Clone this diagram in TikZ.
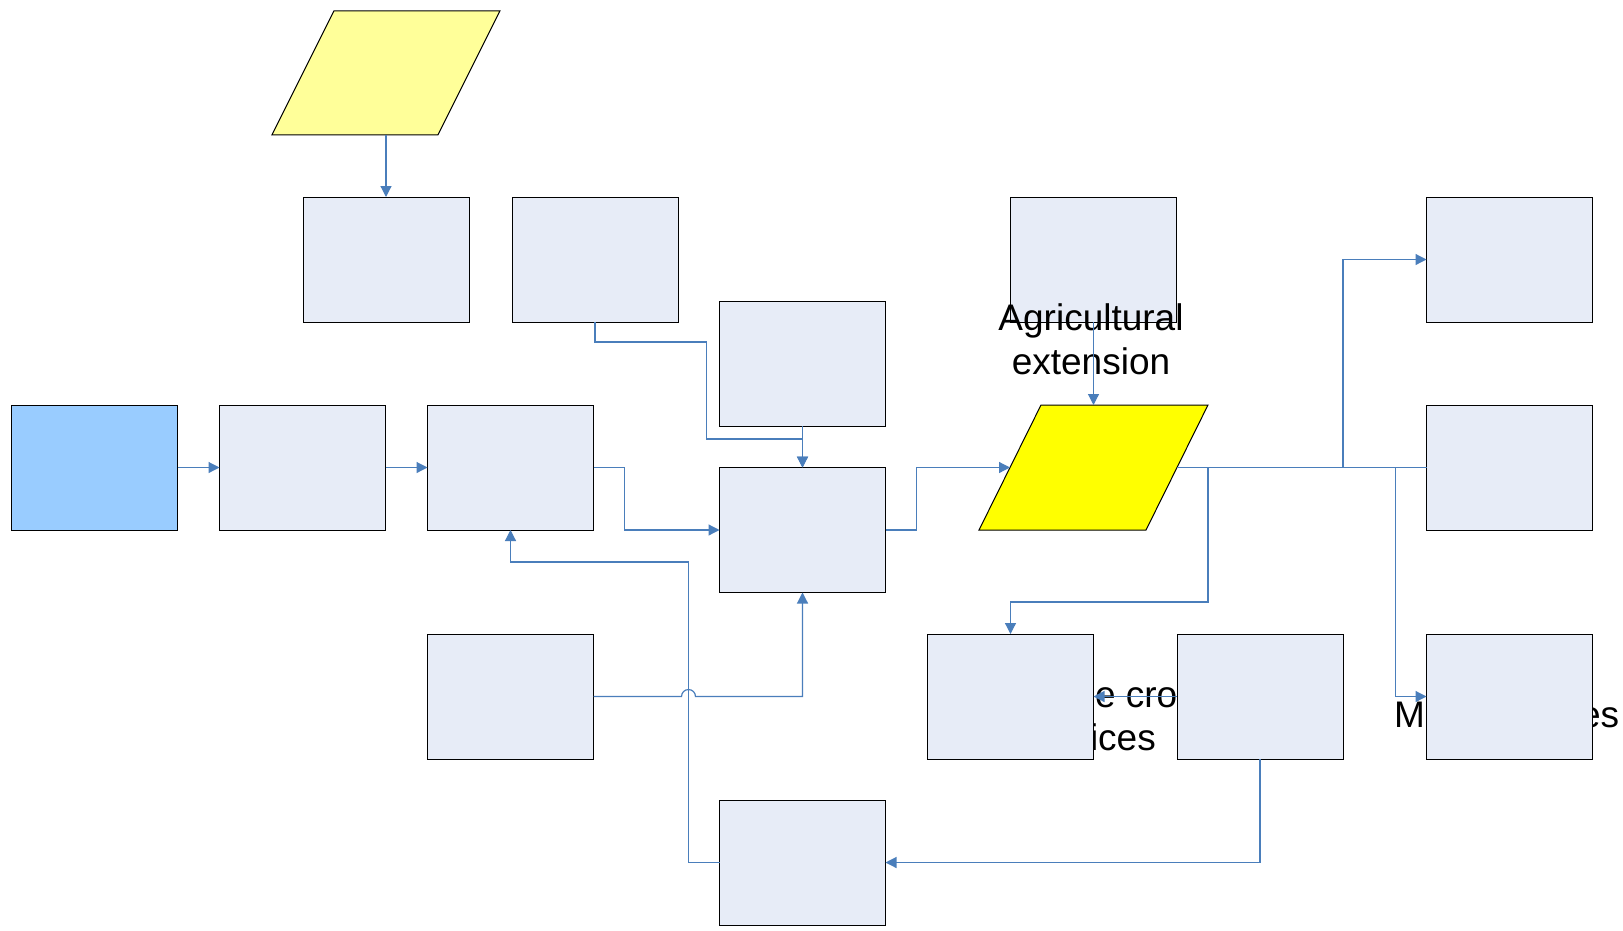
\documentclass[tikz,border=0pt]{standalone}
\usepackage{fontspec}
\setmainfont{Liberation Sans}
\usetikzlibrary{arrows.meta,calc}
\definecolor{boxfill}{RGB}{231,236,247}
\definecolor{startblue}{RGB}{153,204,255}
\definecolor{paleyellow}{RGB}{255,255,153}
\definecolor{brightyellow}{RGB}{255,255,0}
\definecolor{linkblue}{RGB}{74,126,187}
\begin{document}
\begin{tikzpicture}[x=1pt,y=-1pt,
  plainbox/.style={draw=black, line width=1pt, fill=boxfill,
    minimum width=166pt, minimum height=125pt, inner sep=0pt, outer sep=0pt},
  frame/.style={inner sep=0pt, outer sep=0pt},
  link/.style={draw=linkblue, line width=1.2pt},
  arr/.style={-{Triangle[length=11pt,width=11pt]}},
  txt/.style={font=\fontsize{37}{44}\selectfont, inner sep=0pt, outer sep=0pt}]

% canvas
\fill[white] (0,0) rectangle (1623,930);
\useasboundingbox (0,0) rectangle (1623,930);

% input parallelograms
\node[frame, minimum width=228pt, minimum height=124pt] (P1) at (386,72.85) {};
\draw[line width=1pt, fill=paleyellow] (P1.south west) -- ($(P1.north west)+(62,0)$)
  -- (P1.north east) -- ($(P1.south east)+(-62,0)$) -- cycle;
\node[frame, minimum width=229pt, minimum height=125pt] (P2) at (1093.5,467.5) {};
\draw[line width=1pt, fill=brightyellow] (P2.south west) -- ($(P2.north west)+(62,0)$)
  -- (P2.north east) -- ($(P2.south east)+(-62,0)$) -- cycle;

% text partly covered by the boxes
\node[txt, anchor=base west] (frag1) at (1095,707) {e cro};
\node[txt, anchor=base west] (frag2) at (1090,750) {ices};
\node[txt, anchor=base west] (frag3) at (1394,727) {M};
\node[txt, anchor=base west] (frag4) at (1580,727) {es};

% boxes
\node[plainbox] (A) at (386,259.5) {};
\node[plainbox] (B) at (595,259.5) {};
\node[plainbox] (C) at (802.5,363.5) {};
\node[plainbox] (D) at (1093.5,259.5) {};
\node[plainbox] (E) at (1509.5,259.5) {};
\node[plainbox, fill=startblue] (S) at (94.5,467.5) {};
\node[plainbox] (F) at (302.5,467.5) {};
\node[plainbox] (G) at (510.5,467.5) {};
\node[plainbox] (H) at (802.5,530) {};
\node[plainbox] (I) at (1509.5,467.5) {};
\node[plainbox] (J) at (510.5,696.5) {};
\node[plainbox] (K) at (1010.5,696.5) {};
\node[plainbox] (L) at (1260,696.5) {};
\node[plainbox] (M) at (1509.5,696.5) {};
\node[plainbox] (N) at (802.5,862.5) {};

% caption over box D
\node[txt, anchor=base] (agri1) at (1091,330) {Agricultural};
\node[txt, anchor=base] (agri2) at (1091,374) {extension};

% connectors
\draw[link,arr] (P1.south) -- (A.north);
\draw[link,arr] (S.east) -- (F.west);
\draw[link,arr] (F.east) -- (G.west);
\draw[link,arr] (B.south) -- ++(0,20) -| ($(C.south west)+(-13,13)$) -| (H.north);
\draw[link,arr] (C.south) -- (H.north);
\draw[link,arr] (G.east) -- ++(31,0) |- (H.west);
\draw[link,arr] (H.east) -- ++(31,0) |- ($(P2.west)+(31,0)$);
\draw[link,arr] (D.south) -- (P2.north);
\coordinate (P2r) at ($(P2.east)+(-31,0)$);
\draw[link] (P2r) -- (I.west);
\draw[link,arr] (L.east |- P2r) |- (E.west);
\draw[link,arr] ($(I.west)+(-31,0)$) |- (M.west);
\draw[link,arr] (P2.north east |- P2r) -- ++(0,134.5) -| (K.north);
\draw[link,arr] (L.west) -- (K.east);
\draw[link,arr] (L.south) |- (N.east);
\draw[link,arr] (N.west) -- ++(-31,0) |- ($(G.south)+(0,32)$) -- (G.south);
\draw[link,arr] (J.east) -- ($(N.west |- J.east)+(-38,0)$)
  arc[start angle=180, end angle=0, radius=7pt] -- (H.south |- J.east) -- (H.south);
\end{tikzpicture}
\end{document}
